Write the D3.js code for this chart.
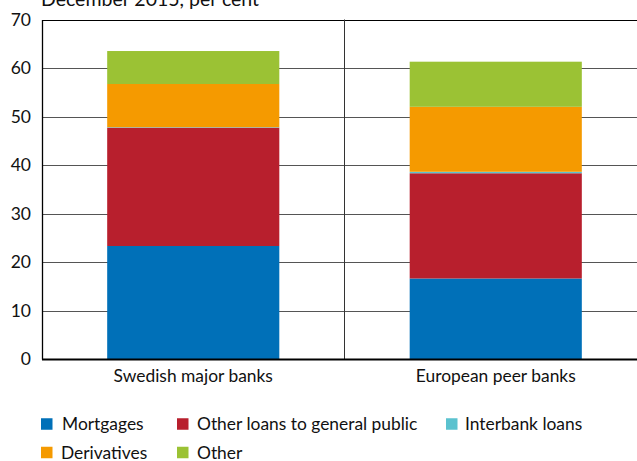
<!DOCTYPE html>
<html>
<head>
<meta charset="utf-8">
<script src="https://cdn.jsdelivr.net/npm/d3@7"></script>
<style>
  html, body { margin: 0; padding: 0; background: #fff; }
  svg { display: block; font-family: Lato, "Open Sans", sans-serif; }
</style>
</head>
<body>
<svg id="chart" width="637" height="461"></svg>
<script>
// Bank assets by type, December 2015, per cent
const categories = ["Swedish major banks", "European peer banks"];
const seriesNames = ["Mortgages", "Other loans to general public", "Interbank loans", "Derivatives", "Other"];
const mortgages = [23.3, 16.6];
const otherLoans = [24.4, 21.7];
const interbank = [0.1, 0.3];
const derivatives = [8.9, 13.4];
const other = [6.8, 9.3];
const yTicks = [0, 10, 20, 30, 40, 50, 60, 70];
const colors = ["#0070b8", "#b81f2d", "#5bc2cf", "#f59a00", "#9bc234"];

const seriesValues = [mortgages, otherLoans, interbank, derivatives, other];
const rows = categories.map((c, i) => {
  const r = { category: c };
  seriesNames.forEach((s, k) => { r[s] = seriesValues[k][i]; });
  return r;
});

const FONT = "Lato, 'Open Sans', sans-serif";
const svg = d3.select("#chart");
const W = 637, H = 461;
const plotLeft = 42, plotTop = 19.5, plotBottom = 359;

const y = d3.scaleLinear().domain([0, 70]).range([plotBottom, plotTop]);
// the second group runs slightly past the right edge of the page
const x = d3.scaleBand().domain(categories).range([plotLeft, 647]);
const barWidth = x.bandwidth() * 0.569;

// horizontal gridlines
svg.append("g")
  .selectAll("line")
  .data(yTicks.filter(t => t > 0))
  .join("line")
  .attr("x1", plotLeft).attr("x2", W)
  .attr("y1", d => Math.round(y(d)) + 0.5).attr("y2", d => Math.round(y(d)) + 0.5)
  .attr("stroke", d => d === 70 ? "#000" : "#555")
  .attr("stroke-width", 1.2);

// divider between the two groups
svg.append("line")
  .attr("x1", x(categories[1])).attr("x2", x(categories[1]))
  .attr("y1", plotTop).attr("y2", plotBottom)
  .attr("stroke", "#333").attr("stroke-width", 1);

// stacked bars
const stack = d3.stack().keys(seriesNames)(rows);
svg.append("g")
  .selectAll("g")
  .data(stack)
  .join("g")
  .attr("fill", (d, i) => colors[i])
  .selectAll("rect")
  .data(d => d)
  .join("rect")
  .attr("x", d => x(d.data.category) + (x.bandwidth() - barWidth) / 2)
  .attr("width", barWidth)
  .attr("y", d => y(d[1]))
  .attr("height", d => y(d[0]) - y(d[1]));

// left axis
const yAxis = d3.axisLeft(y).tickValues(yTicks).tickSize(0).tickPadding(11);
const gy = svg.append("g").attr("transform", `translate(${plotLeft},0)`).call(yAxis);
gy.select(".domain").attr("stroke", "#000").attr("stroke-width", 1.3);
gy.selectAll("text").attr("font-size", 17.5).attr("fill", "#111").attr("font-family", FONT);

// baseline
svg.append("line")
  .attr("x1", plotLeft).attr("x2", W)
  .attr("y1", plotBottom + 0.5).attr("y2", plotBottom + 0.5)
  .attr("stroke", "#000").attr("stroke-width", 2);

// category axis
const xAxis = d3.axisBottom(x).tickSize(0).tickPadding(11);
const gx = svg.append("g").attr("transform", `translate(0,${plotBottom})`).call(xAxis);
gx.select(".domain").remove();
gx.selectAll("text").attr("font-size", 17.4).attr("fill", "#111").attr("font-family", FONT);

// heading, partly above the frame
svg.append("text")
  .attr("x", 41).attr("y", 6)
  .attr("font-size", 19.5).attr("fill", "#111")
  .text("December 2015, per cent");

// legend
const legendPos = [
  { sx: 41, tx: 62, y: 424 },
  { sx: 177, tx: 197, y: 424 },
  { sx: 446, tx: 465, y: 424 },
  { sx: 41, tx: 61, y: 452.5 },
  { sx: 177, tx: 197, y: 452.5 }
];
const lg = svg.append("g");
seriesNames.forEach((s, i) => {
  const p = legendPos[i];
  lg.append("rect").attr("x", p.sx).attr("y", p.y - 5.75).attr("width", 11.5).attr("height", 11.5).attr("fill", colors[i]);
  lg.append("text").attr("x", p.tx).attr("y", p.y).attr("dy", "0.35em")
    .attr("font-size", 17.4).attr("fill", "#111").text(s);
});
</script>
</body>
</html>
